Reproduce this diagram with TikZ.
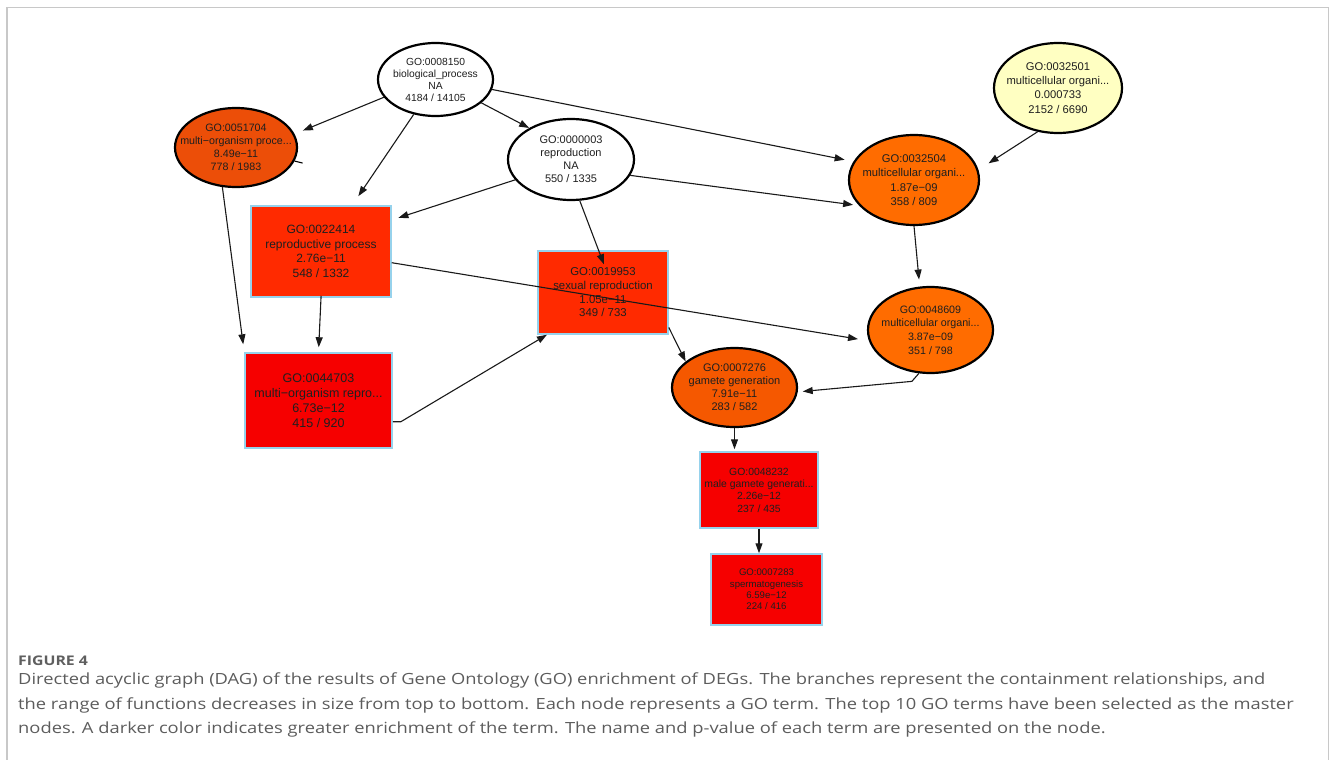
\documentclass[tikz,border=0pt]{standalone}
\usepackage{fontspec}
\setmainfont{Liberation Sans}
\newfontfamily\capfont[FakeStretch=1.19]{Open Sans}
\usetikzlibrary{shapes.geometric,arrows.meta,calc}
\definecolor{orangeA}{RGB}{255,108,0}
\definecolor{orangeB}{RGB}{236,78,8}
\definecolor{orangeC}{RGB}{245,88,0}
\definecolor{redA}{RGB}{255,42,0}
\definecolor{redB}{RGB}{246,0,0}
\definecolor{paleyellow}{RGB}{255,255,194}
\definecolor{boxblue}{RGB}{150,210,236}
\definecolor{capgray}{RGB}{92,92,92}
\definecolor{figgray}{RGB}{95,95,95}
\definecolor{framegray}{RGB}{200,200,200}
\begin{document}
\begin{tikzpicture}[x=1pt,y=-1pt,
  ell/.style={ellipse,draw=black,line width=2.2pt,inner sep=0pt},
  lab/.style={align=center,inner sep=0pt,text=black!88},
  box/.style={rectangle,draw=boxblue,line width=1.5pt,inner sep=0pt,align=center,text=black!88},
  edge/.style={draw=black!90,line width=1.1pt,-{Triangle[length=10pt,width=7pt]}},
  capline/.style={anchor=base west,inner sep=0pt,text=capgray,font=\capfont\fontsize{15.4}{20}\selectfont}
  ]
\useasboundingbox (0,0) rectangle (1330,760);
\draw[framegray,line width=1.2pt] (7,760) -- (7,7.5) -- (1328.5,7.5) -- (1328.5,760);

% ellipses
\node[ell,fill=white,minimum width=115,minimum height=73,
  label={[lab,font=\fontsize{10.3}{12}\selectfont]center:{GO:0008150\\biological\_process\\NA\\4184 / 14105}}]
  (n8150) at (435.5,79.5) {};
\node[ell,fill=orangeB,minimum width=122,minimum height=79,
  label={[lab,font=\fontsize{10.7}{13}\selectfont]center:{GO:0051704\\multi−organism proce...\\8.49e−11\\778 / 1983}}]
  (n51704) at (236,147.5) {};
\node[ell,fill=white,minimum width=126,minimum height=81,
  label={[lab,font=\fontsize{11}{12.9}\selectfont]center:{GO:0000003\\reproduction\\NA\\550 / 1335}}]
  (n3) at (571,159.5) {};
\node[ell,fill=paleyellow,minimum width=128,minimum height=90,
  label={[lab,font=\fontsize{11.2}{14.2}\selectfont]center:{GO:0032501\\multicellular organi...\\0.000733\\2152 / 6690}}]
  (n32501) at (1058,88) {};
\node[ell,fill=orangeA,minimum width=130,minimum height=90,
  label={[lab,font=\fontsize{11.2}{14.4}\selectfont]center:{GO:0032504\\multicellular organi...\\1.87e−09\\358 / 809}}]
  (n32504) at (914,180) {};
\node[ell,fill=orangeA,minimum width=125,minimum height=86,
  label={[lab,font=\fontsize{10.7}{13.7}\selectfont]center:{GO:0048609\\multicellular organi...\\3.87e−09\\351 / 798}}]
  (n48609) at (930.5,330) {};
\node[ell,fill=orangeC,minimum width=125,minimum height=79,
  label={[lab,font=\fontsize{11}{13}\selectfont]center:{GO:0007276\\gamete generation\\7.91e−11\\283 / 582}}]
  (n7276) at (734.5,387.5) {};

% boxes
\node[box,fill=redA,minimum width=140,minimum height=91,font=\fontsize{12}{14.5}\selectfont]
  (n22414) at (321,251.5) {GO:0022414\\reproductive process\\2.76e−11\\548 / 1332};
\node[box,fill=redA,minimum width=130,minimum height=83,font=\fontsize{11.4}{13.7}\selectfont]
  (n19953) at (603,292.5) {GO:0019953\\sexual reproduction\\1.05e−11\\349 / 733};
\node[box,fill=redB,minimum width=147,minimum height=95,font=\fontsize{12.5}{15}\selectfont]
  (n44703) at (318.5,400.5) {GO:0044703\\multi−organism repro...\\6.73e−12\\415 / 920};
\node[box,fill=redB,minimum width=118,minimum height=76,font=\fontsize{10.4}{12.3}\selectfont]
  (n48232) at (759,490) {GO:0048232\\male gamete generati...\\2.26e−12\\237 / 435};
\node[box,fill=redB,minimum width=111,minimum height=71,font=\fontsize{9.6}{11.3}\selectfont]
  (n7283) at (766.5,589.5) {GO:0007283\\spermatogenesis\\6.59e−12\\224 / 416};

% edges
\draw[edge,shorten >=9pt] (n8150.199) -- (n51704.13);
\draw[edge,shorten >=11pt] (n8150.238) -- (n22414.56);
\draw[edge] (n8150.333) -- (n3.143);
\draw[edge,shorten >=9pt] (n8150.350) -- (n32504.163);
\draw[edge,shorten >=8pt] (n51704.251) -- (n44703.north west);
\draw[line width=1.1pt] (n51704.347) -- ++(8,2);
\draw[edge,shorten >=7pt] (n3.200) -- (n22414.24);
\draw[edge,shorten >=-15pt] (n3.282) -- (n19953.96);
\draw[edge,shorten >=6pt] (n3.345) -- (n32504.205);
\draw[edge,shorten >=12pt] (n32501.245) -- (n32504.9);
\draw[edge,shorten >=7pt] (n32504.south) -- (n48609.104);
\draw[edge,shorten >=11pt] (n22414.351) -- (n48609.190);
\draw[edge,shorten >=5pt,shorten <=-2pt] (n22414.south) -- (n44703.north);
\draw[edge] (n44703.344) -- ++(8,0) -- (n19953.217);
\draw[edge] (n19953.332) -- (n7276.152);
\draw[edge,shorten >=5pt] (n48609.255) -- ++(-7,8) -- (n7276.356);
\draw[edge,shorten >=2pt] (n7276.south) -- (n7276.south |- n48232.north);
\draw[edge] (n48232.south) -- (n48232.south |- n7283.north);

% caption
\node[anchor=base west,inner sep=0pt,text=figgray,font=\capfont\bfseries\fontsize{13.3}{15}\selectfont] (fig) at (18,665) {FIGURE 4};
\node[capline] (cap1) at (18,684) {Directed acyclic graph (DAG) of the results of Gene Ontology (GO) enrichment of DEGs. The branches represent the containment relationships, and};
\node[capline] (cap2) at (18,709) {the range of functions decreases in size from top to bottom. Each node represents a GO term. The top 10 GO terms have been selected as the master};
\node[capline] (cap3) at (18,733) {nodes. A darker color indicates greater enrichment of the term. The name and p-value of each term are presented on the node.};
\end{tikzpicture}
\end{document}
